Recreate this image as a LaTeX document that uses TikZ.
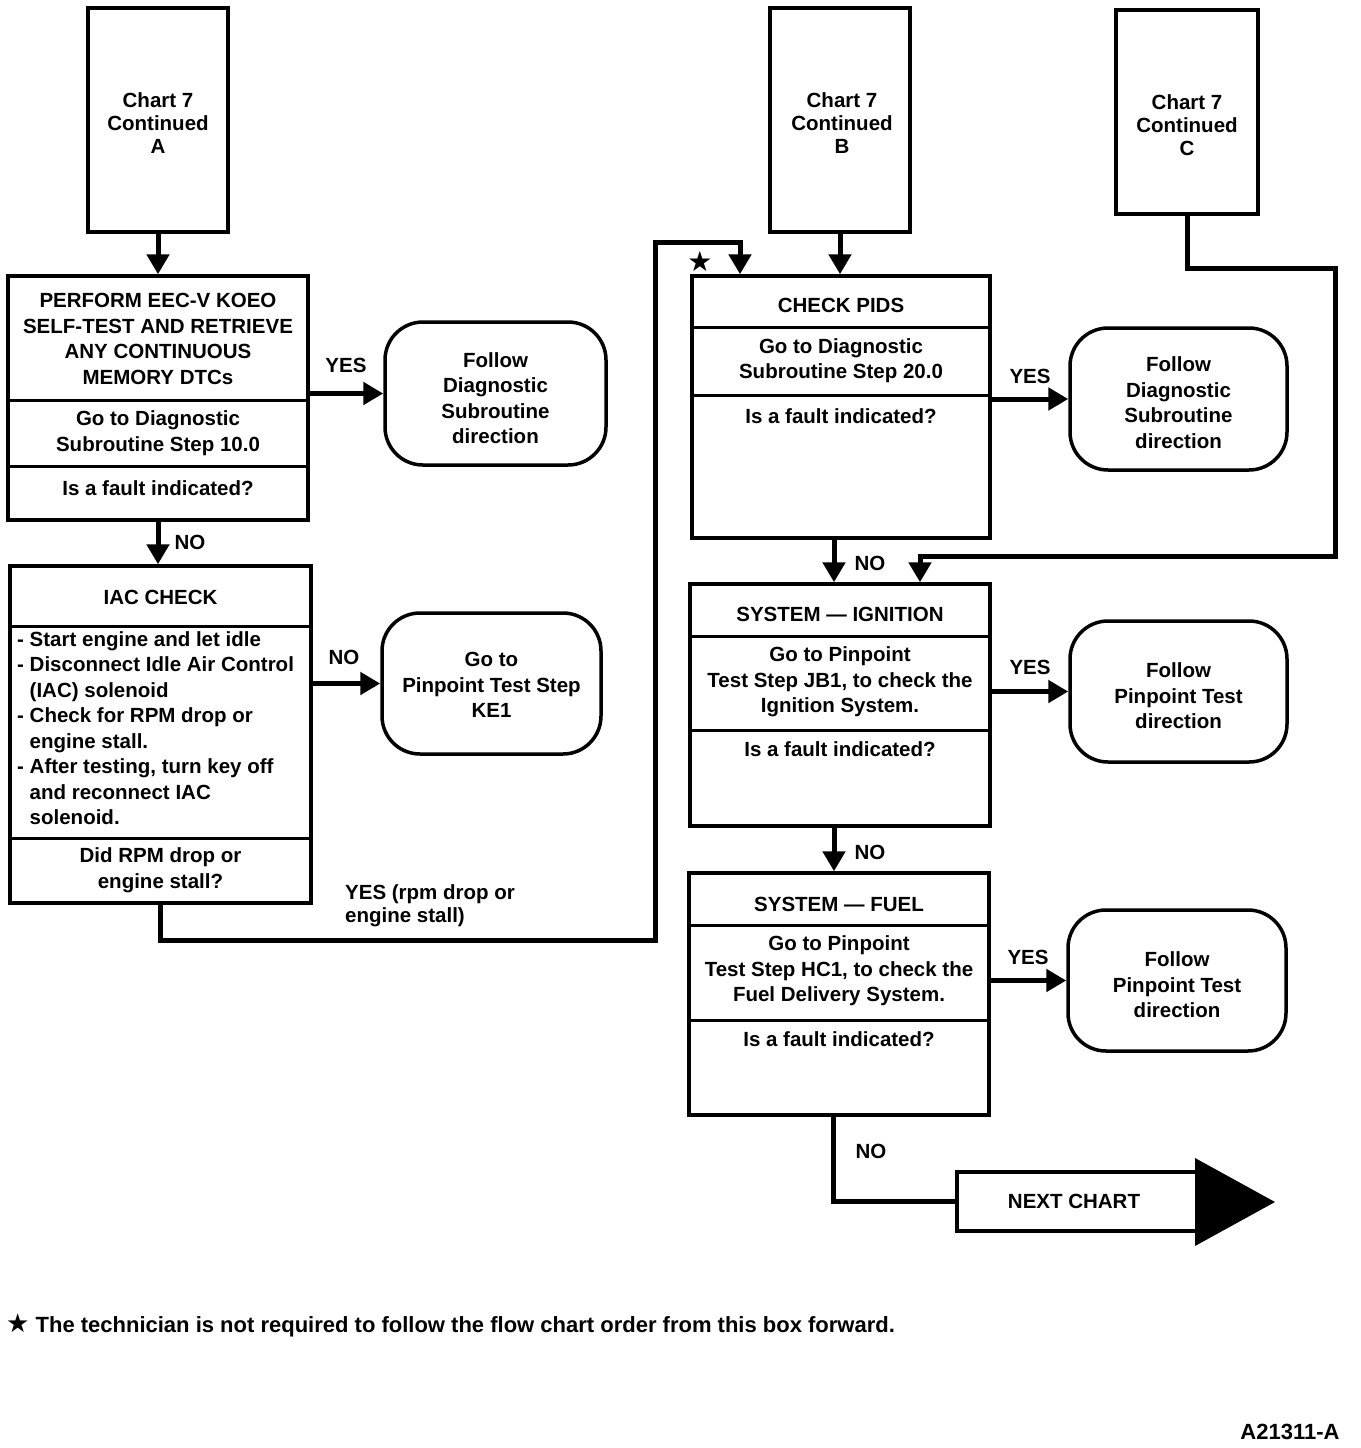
\documentclass[tikz,border=0pt]{standalone}
\usepackage{fontspec}
\setmainfont{Liberation Sans}
\newfontfamily\symfont{DejaVu Sans}
\usetikzlibrary{arrows.meta,calc}
\tikzset{
  box/.style={draw, line width=3.5pt, inner sep=0pt},
  rbox/.style={box, rounded corners=38pt},
  divider/.style={line width=3pt},
  arr/.style={line width=5pt, -{Triangle[width=22pt,length=20pt]}},
  conn/.style={line width=5pt},
  txt/.style={font=\fontsize{20.5}{25.5}\selectfont\bfseries, align=center, inner sep=0pt},
  ctxt/.style={font=\fontsize{20.5}{23}\selectfont\bfseries, align=center, inner sep=0pt},
  lbl/.style={font=\fontsize{20.5}{23}\selectfont\bfseries, inner sep=0pt},
  foot/.style={font=\fontsize{22}{24}\selectfont\bfseries, inner sep=0pt},
}
\begin{document}
\begin{tikzpicture}[x=1pt,y=-1pt]
\fill[white] (0,0) rectangle (1360,1448);
\useasboundingbox (0,0) rectangle (1360,1448);

% continuation boxes
\node[box, minimum width=140pt, minimum height=224pt] (A) at (158,120) {};
\node[ctxt] (Atx) at (158,123) {Chart 7\\Continued\\A};
\node[box, minimum width=140pt, minimum height=224pt] (B) at (840,120) {};
\node[ctxt] (Btx) at (842,123) {Chart 7\\Continued\\B};
\node[box, minimum width=142pt, minimum height=204pt] (C) at (1187,112) {};
\node[ctxt] (Ctx) at (1187,125) {Chart 7\\Continued\\C};

% box 1
\node[box, minimum width=300pt, minimum height=244pt] (p1) at (158,398) {};
\draw[divider] (p1.west |- 0,400) -- (p1.east |- 0,400);
\draw[divider] (p1.west |- 0,466) -- (p1.east |- 0,466);
\node[txt] (p1a) at (158,339) {PERFORM EEC-V KOEO\\SELF-TEST AND RETRIEVE\\ANY CONTINUOUS\\MEMORY DTCs};
\node[txt] (p1b) at (158,433) {Go to Diagnostic\\Subroutine Step 10.0};
\node[txt] (p1c) at (158,488) {Is a fault indicated?};

\node[rbox, minimum width=221pt, minimum height=143pt] (r1) at (495.5,393.5) {};
\node[txt] (r1t) at (495.5,398) {Follow\\Diagnostic\\Subroutine\\direction};

% IAC box
\node[box, minimum width=301pt, minimum height=337pt] (iac) at (160.5,734.5) {};
\draw[divider] (iac.west |- 0,626) -- (iac.east |- 0,626);
\draw[divider] (iac.west |- 0,838) -- (iac.east |- 0,838);
\node[txt] (iact) at (160.5,597) {IAC CHECK};
\node[txt, align=left, anchor=west] (iacb) at (17,728) {- Start engine and let idle\\- Disconnect Idle Air Control\\\phantom{- }(IAC) solenoid\\- Check for RPM drop or\\\phantom{- }engine stall.\\- After testing, turn key off\\\phantom{- }and reconnect IAC\\\phantom{- }solenoid.};
\node[txt] (iacq) at (160.5,870) {Did RPM drop or\\engine stall?};

\node[rbox, minimum width=219pt, minimum height=141pt] (r2) at (491.5,683.5) {};
\node[txt] (r2t) at (491.5,685) {Go to\\Pinpoint Test Step\\KE1};

% CHECK PIDS
\node[box, minimum width=298pt, minimum height=262pt] (pids) at (841,407) {};
\draw[divider] (pids.west |- 0,327) -- (pids.east |- 0,327);
\draw[divider] (pids.west |- 0,395) -- (pids.east |- 0,395);
\node[txt] (pidst) at (841,305) {CHECK PIDS};
\node[txt] (pidsb) at (841,360.5) {Go to Diagnostic\\Subroutine Step 20.0};
\node[txt] (pidsq) at (841,416) {Is a fault indicated?};

\node[rbox, minimum width=217pt, minimum height=142pt] (r3) at (1178.5,399) {};
\node[txt] (r3t) at (1178.5,402.5) {Follow\\Diagnostic\\Subroutine\\direction};

% IGNITION
\node[box, minimum width=300pt, minimum height=242pt] (ign) at (840,705) {};
\draw[divider] (ign.west |- 0,636) -- (ign.east |- 0,636);
\draw[divider] (ign.west |- 0,730) -- (ign.east |- 0,730);
\node[txt] (ignt) at (840,614) {SYSTEM — IGNITION};
\node[txt] (ignb) at (840,682) {Go to Pinpoint\\Test Step JB1, to check the\\Ignition System.};
\node[txt] (ignq) at (840,749) {Is a fault indicated?};

\node[rbox, minimum width=217pt, minimum height=141pt] (r4) at (1178.5,691.5) {};
\node[txt] (r4t) at (1178.5,696) {Follow\\Pinpoint Test\\direction};

% FUEL
\node[box, minimum width=300pt, minimum height=242pt] (fuel) at (839,994) {};
\draw[divider] (fuel.west |- 0,925) -- (fuel.east |- 0,925);
\draw[divider] (fuel.west |- 0,1020) -- (fuel.east |- 0,1020);
\node[txt] (fuelt) at (839,904) {SYSTEM — FUEL};
\node[txt] (fuelb) at (839,971) {Go to Pinpoint\\Test Step HC1, to check the\\Fuel Delivery System.};
\node[txt] (fuelq) at (839,1039) {Is a fault indicated?};

\node[rbox, minimum width=218pt, minimum height=141pt] (r5) at (1177,980.5) {};
\node[txt] (r5t) at (1177,985) {Follow\\Pinpoint Test\\direction};

% NEXT CHART
\node[box, minimum width=240pt, minimum height=59pt] (next) at (1077,1201.5) {};
\fill (1195,1158) -- (1275,1202) -- (1195,1246) -- cycle;
\node[txt] (nextt) at (1074,1201) {NEXT CHART};

% connectors
\draw[arr] (A.south) -- (p1.north);
\draw[arr] (p1.east |- r1.west) -- (r1.west);
\draw[arr] (p1.south) -- (p1.south |- iac.north);
\draw[arr] (iac.east |- r2.west) -- (r2.west);
\coordinate (t1) at (655,940);
\coordinate (t2) at (740,242);
\draw[arr] (iac.south) |- (t1) |- (t2) -- (t2 |- pids.north);
\draw[arr] (B.south) -- (B.south |- pids.north);
\draw[arr] (pids.east |- r3.west) -- (r3.west);
\coordinate (c1) at (1335,268);
\coordinate (c2) at (920,556);
\draw[arr] (C.south) |- (c1) |- (c2) -- (c2 |- ign.north);
\coordinate (n1) at ($(pids.south)+(-7,0)$);
\draw[arr] (n1) -- (n1 |- ign.north);
\draw[arr] (ign.east |- r4.west) -- (r4.west);
\coordinate (n2) at ($(ign.south)+(-6,0)$);
\draw[arr] (n2) -- (n2 |- fuel.north);
\draw[arr] (fuel.east |- r5.west) -- (r5.west);
\coordinate (n3) at ($(fuel.south)+(-6,0)$);
\draw[conn] (n3) |- (next.west);

% labels
\node[lbl] (l1) at (346,365) {YES};
\node[lbl] (l2) at (190,542) {NO};
\node[lbl] (l3) at (344,657) {NO};
\node[lbl, align=left, anchor=north west] (l4) at (345,884) {YES (rpm drop or\\engine stall)};
\node[lbl] (l5) at (1030,376) {YES};
\node[lbl] (l6) at (870,563) {NO};
\node[lbl] (l7) at (1030,667) {YES};
\node[lbl] (l8) at (870,852) {NO};
\node[lbl] (l9) at (1028,957) {YES};
\node[lbl] (l10) at (871,1151) {NO};
\node[font=\fontsize{28}{28}\selectfont\symfont, inner sep=0pt] (star) at (700,261) {★};

% footnote
\node[foot, anchor=west] (foot) at (6,1325) {{\symfont\fontsize{26}{26}\selectfont ★} The technician is not required to follow the flow chart order from this box forward.};
\node[foot] (code) at (1290,1432) {A21311-A};
\end{tikzpicture}
\end{document}
